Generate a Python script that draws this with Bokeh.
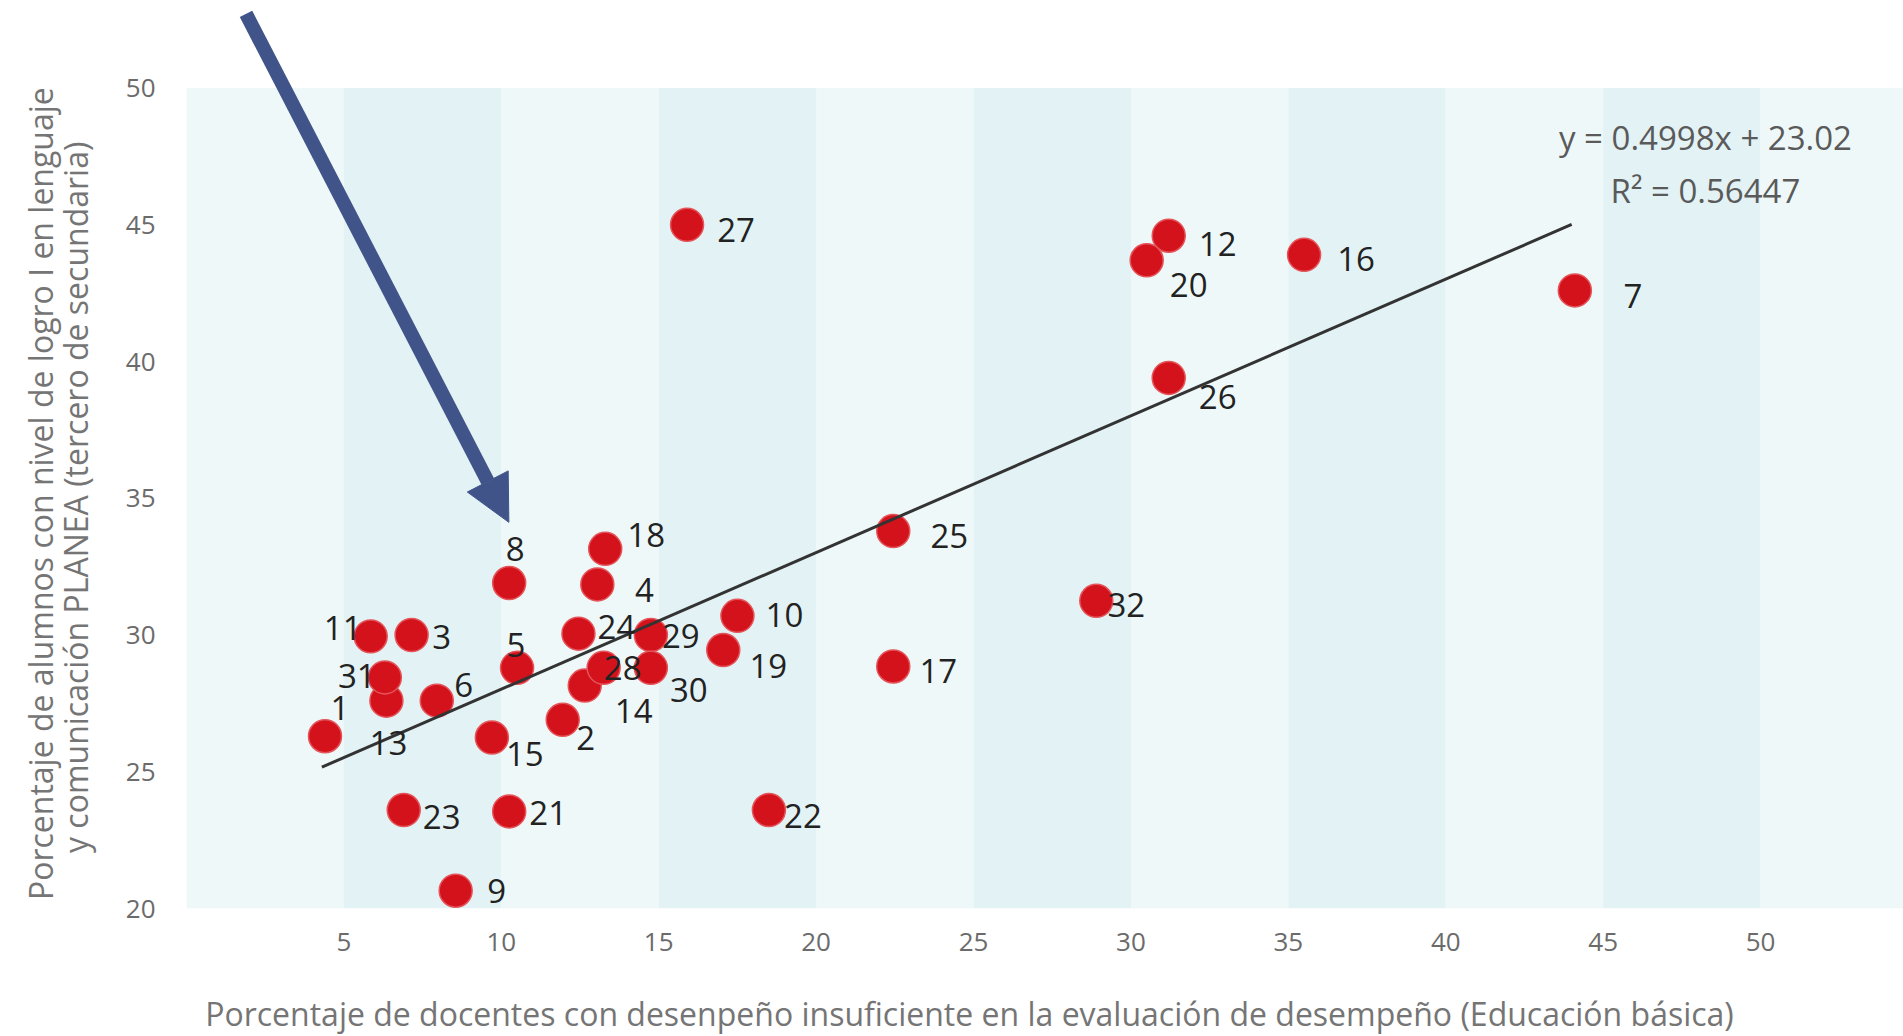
import math
from bokeh.plotting import figure
from bokeh.layouts import row, column
from bokeh.models import (ColumnDataSource, FixedTicker, Label, Arrow,
                          NormalHead, Range1d)
from bokeh.core.properties import value
from bokeh.embed import file_html
from bokeh.resources import INLINE

# ---------------- data ----------------
entity_ids = [str(i) for i in range(1, 33)]
teachers_insufficient = [4.4, 11.95, 7.15, 13.05, 10.5, 7.95, 44.1, 10.25, 8.55, 17.5,
                         5.85, 31.2, 6.35, 12.65, 9.7, 35.5, 22.45, 13.3, 17.05, 30.5,
                         10.25, 18.5, 6.9, 12.45, 22.45, 31.2, 15.9, 13.25, 14.75, 14.75,
                         6.3, 28.9]
students_level1 = [26.3, 26.9, 30.0, 31.85, 28.8, 27.6, 42.6, 31.9, 20.65, 30.7,
                   29.95, 44.6, 27.6, 28.15, 26.25, 43.9, 28.85, 33.15, 29.45, 43.7,
                   23.55, 23.6, 23.6, 30.05, 33.8, 39.4, 45.0, 28.8, 30.0, 28.8,
                   28.45, 31.25]
# label offsets (screen px) relative to each point
label_dx = [15, 23, 30, 47, -1, 27, 58, 6, 41, 47,
            -28, 49, 2, 49, 33, 52, 45, 41, 45, 42,
            39, 34, 38, 38, 56, 49, 49, 19, 30, 38,
            -28, 30]
label_dy = [-28, 18, 2, 6, -23, -16, 6, -34, 0, -1,
            -8, 8, 42, 25, 16, 4, 5, -14, 16, 25,
            2, 6, 7, -7, 5, 19, 5, 0, 1, 22,
            -1, 4]

x_ticks = [5, 10, 15, 20, 25, 30, 35, 40, 45, 50]
y_ticks = [20, 25, 30, 35, 40, 45, 50]
band_starts = [0, 5, 10, 15, 20, 25, 30, 35, 40, 45, 50]
band_width = 5

trend_slope = 0.4998
trend_intercept = 23.02
trend_x = [4.3, 44.0]
trend_y = [trend_slope * v + trend_intercept for v in trend_x]

eq_text = "y = 0.4998x + 23.02"
r2_text = "R² = 0.56447"
x_title = ("Porcentaje de docentes con desenpeño insuficiente en la evaluación "
           "de desempeño (Educación básica)")
y_title_1 = "Porcentaje de alumnos con nivel de logro I en lenguaje"
y_title_2 = "y comunicación PLANEA (tercero de secundaria)"

# ---------------- style ----------------
FONT = "Open Sans"
LIGHT = "#eef8f8"
DARK = "#e3f2f4"
RED = "#d4121b"
ARROW = "#40548a"
AXIS_TXT = "#6b6b6b"
TITLE_TXT = "#757575"

LEFT_W = 100
MAIN_W = 1803
MAIN_H = 986
BOTTOM_H = 50


def blank_fig(w, h):
    f = figure(width=w, height=h, x_range=Range1d(0, w), y_range=Range1d(0, h),
               output_backend="svg", toolbar_location=None, title=None,
               x_axis_type=None, y_axis_type=None,
               min_border=0, min_border_left=0, min_border_right=0,
               min_border_top=0, min_border_bottom=0,
               background_fill_color="white", border_fill_color="white",
               outline_line_color=None)
    f.grid.visible = False
    return f


# ---------------- main plot ----------------
p = figure(width=MAIN_W, height=MAIN_H,
           x_range=Range1d(0, 54.54), y_range=Range1d(20, 53.2),
           output_backend="svg", toolbar_location=None, title=None,
           min_border_left=86, min_border_right=0, min_border_top=0,
           min_border_bottom=78,
           background_fill_color="white", border_fill_color="white",
           outline_line_color=None)
p.grid.visible = False

band_colors = [LIGHT if i % 2 == 0 else DARK for i in range(len(band_starts))]
p.quad(left=band_starts, right=[b + band_width for b in band_starts],
       bottom=y_ticks[0], top=y_ticks[-1], fill_color=band_colors, line_color=None)

src = ColumnDataSource(dict(x=teachers_insufficient, y=students_level1,
                            id=entity_ids, dx=label_dx, dy=label_dy))

p.scatter("x", "y", source=src, size=33, fill_color=RED,
          line_color="#e4545a", line_width=1.5)

p.line(trend_x, trend_y, line_color="#333333", line_width=3)

p.text("x", "y", text="id", x_offset="dx", y_offset="dy", source=src,
       text_font=value(FONT), text_font_size="33px", text_color="#222222",
       text_align="center", text_baseline="middle")

p.add_layout(Label(x=48.25, y=48.2, text=eq_text, text_font=FONT,
                   text_font_size="33px", text_color="#5a5a5a",
                   text_align="center", text_baseline="middle"))
p.add_layout(Label(x=48.25, y=46.25, text=r2_text, text_font=FONT,
                   text_font_size="33px", text_color="#5a5a5a",
                   text_align="center", text_baseline="middle"))

p.add_layout(Arrow(end=NormalHead(size=46, fill_color=ARROW, line_color=ARROW),
                   x_start=1.89, y_start=52.71, x_end=10.24, y_end=34.12,
                   line_color=ARROW, line_width=14))

for ax in (p.xaxis[0], p.yaxis[0]):
    ax.axis_line_color = None
    ax.major_tick_line_color = None
    ax.minor_tick_line_color = None
    ax.major_tick_out = 0
    ax.major_label_text_font = FONT
    ax.major_label_text_font_size = "26px"
    ax.major_label_text_color = AXIS_TXT
p.xaxis[0].ticker = FixedTicker(ticks=x_ticks)
p.yaxis[0].ticker = FixedTicker(ticks=y_ticks)
p.xaxis[0].major_label_standoff = 24
p.yaxis[0].major_label_standoff = 31

# ---------------- y-axis title strip (left) ----------------
left = blank_fig(LEFT_W, MAIN_H)
left.add_layout(Label(x=40, y=450.5, text=y_title_1, angle=math.pi / 2,
                      text_font=FONT, text_font_size="32px", text_color=TITLE_TXT,
                      text_align="center", text_baseline="middle"))
left.add_layout(Label(x=75, y=446.5, text=y_title_2, angle=math.pi / 2,
                      text_font=FONT, text_font_size="32px", text_color=TITLE_TXT,
                      text_align="center", text_baseline="middle"))

# ---------------- x-axis title strip (bottom) ----------------
bottom = blank_fig(LEFT_W + MAIN_W, BOTTOM_H)
bottom.add_layout(Label(x=969, y=23, text=x_title,
                        text_font=FONT, text_font_size="32px", text_color=TITLE_TXT,
                        text_align="center", text_baseline="middle"))

layout = column(row(left, p, spacing=0), bottom, spacing=0)

open("out.html", "w").write(file_html(layout, INLINE))
